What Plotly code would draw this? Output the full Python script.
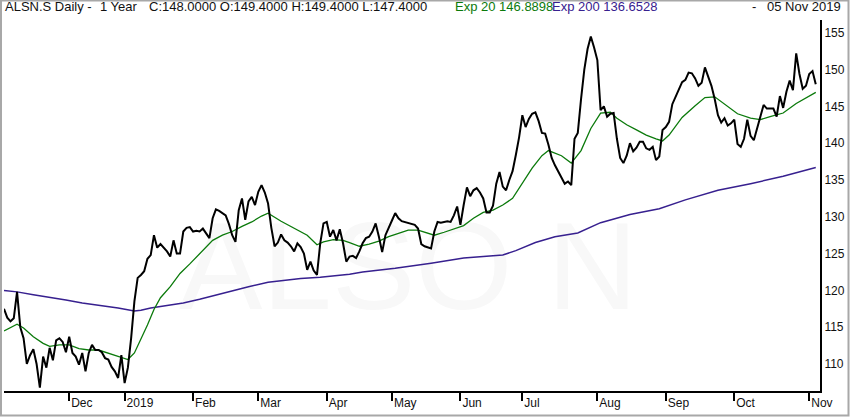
import pandas as pd
import plotly.graph_objects as go

# SIX trading calendar, 05 Nov 2018 - 05 Nov 2019
holidays = ["2018-12-24", "2018-12-25", "2018-12-26", "2018-12-31", "2019-01-01",
            "2019-01-02", "2019-04-19", "2019-04-22", "2019-05-01", "2019-05-30",
            "2019-06-10", "2019-08-01"]
dates = [d.strftime("%Y-%m-%d") for d in pd.bdate_range("2018-11-05", "2019-11-05")]
dates = [d for d in dates if d not in holidays]

# daily close
close = [
    117.5, 116.3, 115.8, 116.2, 119.8, 115.0, 113.5, 110.0, 111.2, 112.0,
    110.0, 106.8, 111.0, 109.5, 112.2, 110.5, 113.2, 113.5, 113.0, 111.6,
    113.7, 111.5, 111.0, 109.9, 111.5, 109.0, 111.5, 112.6, 111.9, 111.9,
    111.6, 110.8, 110.6, 109.6, 109.0, 108.1, 111.2, 107.4, 109.5, 113.5,
    118.5, 121.7, 122.1, 122.6, 124.3, 124.8, 127.5, 125.8, 126.3, 125.8,
    125.3, 124.6, 126.8, 125.0, 125.0, 128.0, 128.5, 128.6, 128.0, 128.1,
    128.0, 128.4, 127.8, 127.1, 129.8, 131.0, 130.8, 130.5, 130.2, 129.0,
    127.5, 126.6, 130.9, 132.5, 129.6, 132.1, 132.7, 131.6, 133.4, 134.3,
    133.3, 131.8, 128.5, 126.0, 126.5, 127.6, 126.8, 126.5, 126.0, 125.3,
    126.4, 125.9, 125.0, 122.8, 123.9, 122.7, 122.1, 126.4, 129.1, 129.3,
    127.3, 128.2, 126.8, 128.3, 126.4, 123.9, 124.6, 124.7, 124.4, 125.3,
    126.4, 127.1, 127.3, 128.0, 129.1, 127.3, 125.2, 127.5, 128.6, 129.5,
    130.5, 129.8, 129.4, 129.3, 129.1, 129.1, 128.9, 128.4, 126.3, 126.0,
    125.8, 125.7, 128.0, 129.3, 129.2, 129.3, 129.4, 129.3, 130.2, 131.4,
    128.9, 131.6, 134.0, 132.8, 133.6, 133.9, 133.3, 132.5, 130.6, 130.6,
    131.5, 134.5, 136.1, 134.1, 133.6, 135.0, 136.2, 138.4, 140.8, 143.8,
    142.2, 143.3, 144.0, 144.2, 143.0, 141.4, 141.3, 139.8, 138.0, 137.0,
    136.2, 135.2, 134.5, 134.8, 134.3, 140.6, 141.4, 146.0, 150.0, 152.8,
    154.5, 153.0, 151.3, 144.5, 145.0, 143.6, 144.0, 144.1, 140.6, 138.0,
    137.3, 138.3, 140.0, 138.9, 139.4, 140.2, 140.2, 139.3, 139.1, 139.5,
    137.7, 138.2, 141.8, 142.2, 142.9, 145.3, 146.3, 147.3, 148.3, 148.6,
    149.6, 149.5, 148.8, 147.8, 148.2, 150.3, 149.0, 147.8, 146.0, 143.8,
    142.8, 143.4, 142.4, 142.7, 143.2, 139.9, 139.5, 140.6, 143.2, 141.0,
    140.4, 142.0, 143.5, 145.2, 144.7, 144.7, 144.7, 143.6, 146.4, 144.8,
    147.0, 148.5, 147.2, 152.2, 149.4, 147.4, 147.8, 149.4, 149.8, 148.0,
]

# exponential averages, sampled every few trading days (index into dates)
ema20_day = [0, 2, 4, 6, 9, 12, 14, 17, 20, 23, 26, 29, 32, 36, 38, 40, 42, 44, 46, 48,
             51, 54, 57, 60, 64, 67, 70, 73, 76, 79, 81, 85, 89, 93, 96, 98, 101, 104, 106, 109,
             112, 115, 118, 121, 124, 127, 130, 132, 135, 138, 141, 144, 147, 150, 153, 156, 159, 162, 165, 167,
             171, 174, 177, 180, 183, 186, 188, 191, 194, 197, 200, 202, 204, 208, 212, 215, 218, 221, 225, 229,
             232, 235, 239, 243, 246, 249]
ema20_val = [114.5, 114.9, 115.4, 114.9, 113.7, 112.8, 112.4, 112.6, 112.6, 112.1,
             111.9, 111.9, 111.5, 110.9, 110.6, 111.5, 113.3, 115.3, 117.4, 119.0,
             120.5, 122.3, 123.6, 125.0, 126.8, 127.5, 128.0, 128.7, 129.3, 130.1,
             130.5, 129.4, 128.5, 127.5, 126.2, 126.6, 126.9, 126.8, 126.5, 126.0,
             126.3, 126.7, 127.3, 127.8, 128.2, 128.2, 127.8, 127.5, 127.9, 128.3,
             128.8, 129.8, 130.6, 130.9, 131.6, 132.5, 134.5, 136.6, 138.3, 139.0,
             138.3, 137.3, 139.0, 142.0, 144.1, 144.2, 143.4, 142.5, 141.8, 141.1,
             140.6, 140.3, 141.1, 143.5, 145.1, 146.2, 146.3, 145.3, 144.0, 143.4,
             143.2, 143.6, 144.1, 145.4, 146.1, 146.9]

ema200_day = [0, 4, 9, 14, 19, 24, 29, 35, 40, 42, 45, 50, 55, 60, 65, 70, 75, 81, 86, 91,
              97, 106, 110, 120, 131, 141, 153, 157, 163, 169, 176, 183, 192, 201, 209, 219, 229, 239, 249]
ema200_val = [120.0, 119.8, 119.4, 119.1, 118.7, 118.3, 118.0, 117.6, 117.2, 117.3,
              117.6, 117.9, 118.3, 118.8, 119.4, 119.9, 120.5, 121.1, 121.4, 121.6,
              121.8, 122.2, 122.5, 123.0, 123.7, 124.4, 124.8, 125.4, 126.5, 127.3,
              127.8, 129.2, 130.3, 131.1, 132.3, 133.6, 134.5, 135.5, 136.7]

tick_dates = ["2018-12-03", "2019-01-03", "2019-02-01", "2019-03-01", "2019-04-01", "2019-05-02",
              "2019-06-03", "2019-07-01", "2019-08-02", "2019-09-02", "2019-10-01", "2019-11-01"]
tick_text = ["Dec", "2019", "Feb", "Mar", "Apr", "May", "Jun", "Jul", "Aug", "Sep", "Oct", "Nov"]
y_ticks = [110, 115, 120, 125, 130, 135, 140, 145, 150, 155]

GREEN = "#0b7a0b"
PURPLE = "#37208f"
FONT = "Liberation Sans, Arial, sans-serif"

fig = go.Figure()

# faint watermark behind the lines
fig.add_trace(go.Scatter(
    x=[dates[124]], y=[121.7], mode="text", text=["ALSO N"],
    textfont=dict(family=FONT, size=125, color="#f8f8f8"),
    hoverinfo="skip",
))
fig.add_trace(go.Scatter(
    x=[dates[i] for i in ema200_day], y=ema200_val, mode="lines",
    line=dict(color=PURPLE, width=1.5),
))
fig.add_trace(go.Scatter(
    x=[dates[i] for i in ema20_day], y=ema20_val, mode="lines",
    line=dict(color=GREEN, width=1.3),
))
fig.add_trace(go.Scatter(
    x=dates, y=close, mode="lines",
    line=dict(color="black", width=2),
))

fig.update_layout(
    width=850,
    height=417,
    margin=dict(l=4, r=30, t=20, b=26),
    paper_bgcolor="white",
    plot_bgcolor="white",
    showlegend=False,
    font=dict(family=FONT, size=12, color="#111111"),
    xaxis=dict(
        type="category",
        categoryorder="array",
        categoryarray=dates,
        range=[0, 250.3],
        tickvals=tick_dates,
        ticktext=tick_text,
        ticks="outside",
        ticklen=8,
        tickwidth=2,
        tickcolor="black",
        ticklabelposition="outside right",
        showline=True,
        linewidth=2,
        linecolor="black",
        showgrid=False,
        zeroline=False,
    ),
    yaxis=dict(
        side="right",
        range=[106.33, 156.74],
        tickvals=y_ticks,
        ticks="",
        showline=True,
        linewidth=2,
        linecolor="black",
        showgrid=False,
        zeroline=False,
    ),
)


def px_x(px):
    return (px - 4) / 816


def px_y(py):
    return (391 - py) / 371


header = [
    ("ALSN.S Daily -", 3, "#111111"),
    ("1 Year", 98, "#111111"),
    ("C:148.0000 O:149.4000 H:149.4000 L:147.4000", 147, "#111111"),
    ("Exp 20 146.8898", 453, GREEN),
    ("Exp 200 136.6528", 550, PURPLE),
    ("-", 750, "#111111"),
    ("05 Nov 2019", 765, "#111111"),
]
for text, left, color in header:
    fig.add_annotation(
        text=text, xref="paper", yref="paper",
        x=px_x(left), y=px_y(7), xanchor="left", yanchor="middle",
        showarrow=False, font=dict(family=FONT, size=13, color=color),
    )

# grey outer frame
fig.add_shape(
    type="rect", xref="paper", yref="paper",
    x0=px_x(1), x1=px_x(848.5), y0=px_y(415.5), y1=px_y(0.5),
    line=dict(color="#a8a8a8", width=2),
)

# the page's default body margin would push the figure 8px off the window
fig.write_html("out.html", config={"displayModeBar": False},
               post_script="document.body.style.margin='0';")
